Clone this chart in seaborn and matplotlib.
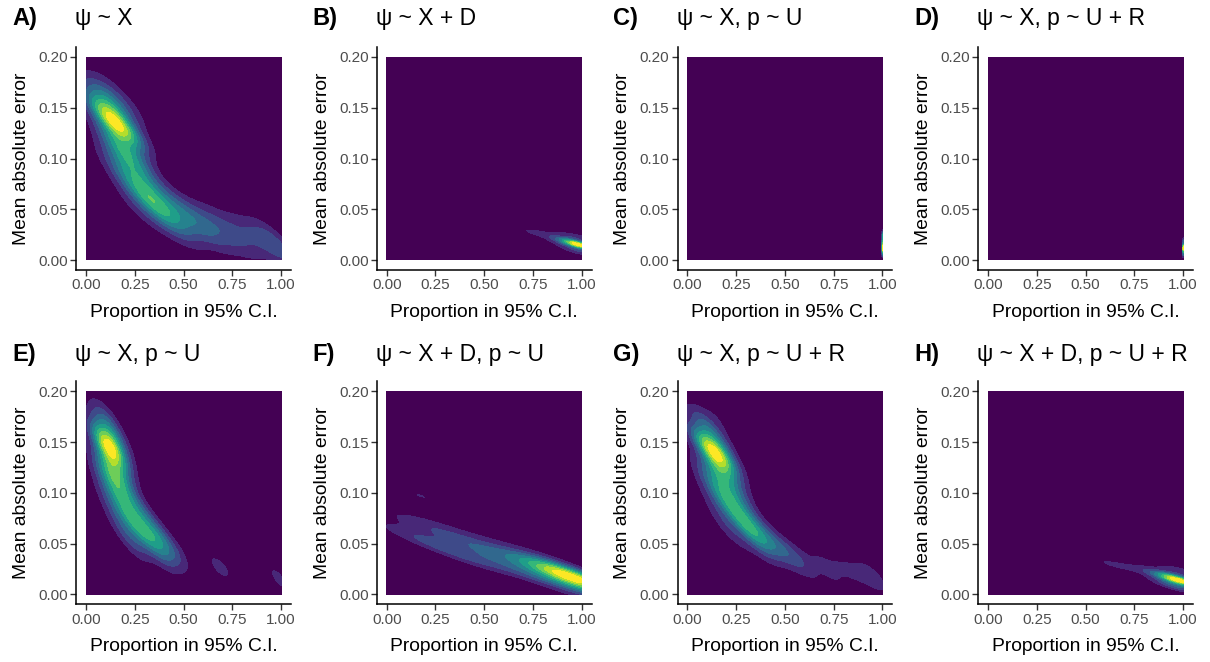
import numpy as np
import pandas as pd
import matplotlib
matplotlib.use("Agg")
import matplotlib.pyplot as plt
import seaborn as sns
from seaborn._statistics import KDE

sns.set_style("ticks")
plt.rcParams['font.family'] = ['Liberation Sans', 'DejaVu Sans']

# ---------------- data (representative weighted observations per panel) ----------------
tags = ["A)", "B)", "C)", "D)", "E)", "F)", "G)", "H)"]
titles = ["ψ ~ X", "ψ ~ X + D", "ψ ~ X, p ~ U", "ψ ~ X, p ~ U + R",
          "ψ ~ X, p ~ U", "ψ ~ X + D, p ~ U", "ψ ~ X, p ~ U + R", "ψ ~ X + D, p ~ U + R"]

a_x = [0.15, 0.11, 0.20, 0.13, 0.17, 0.09, 0.13, 0.08, 0.22,
       0.20, 0.15, 0.26, 0.25, 0.20, 0.31, 0.30, 0.27, 0.36, 0.36, 0.42, 0.40, 0.45,
       0.50, 0.50, 0.52, 0.58, 0.65, 0.65, 0.66, 0.72, 0.80, 0.80, 0.80, 0.88, 0.95, 0.99, 0.95]
a_y = [0.135, 0.140, 0.130, 0.155, 0.115, 0.160, 0.170, 0.150, 0.150,
       0.100, 0.095, 0.100, 0.080, 0.075, 0.080, 0.062, 0.050, 0.065, 0.052, 0.045, 0.035, 0.056,
       0.040, 0.028, 0.050, 0.036, 0.032, 0.022, 0.042, 0.028, 0.024, 0.014, 0.033, 0.020, 0.015, 0.014, 0.026]
a_w = [6.0, 2.5, 2.5, 3.0, 4.0, 1.5, 1.0, 0.8, 0.8,
       3.0, 1.2, 1.2, 2.6, 1.0, 1.0, 2.4, 1.2, 1.2, 2.2, 2.0, 1.0, 1.0,
       2.0, 0.8, 0.8, 1.6, 1.4, 0.6, 0.6, 1.2, 1.1, 0.5, 0.5, 1.0, 1.4, 1.5, 0.5]

b_x = [0.66, 0.70, 0.75, 0.76, 0.80, 0.84, 0.88, 0.91, 0.94, 0.97, 0.99, 1.00,
       1.00, 1.00, 0.95, 0.95, 0.90, 0.90, 0.85, 0.85, 0.78, 0.72]
b_y = [0.030, 0.028, 0.022, 0.027, 0.025, 0.023, 0.021, 0.019, 0.017, 0.016, 0.015, 0.014,
       0.008, 0.022, 0.010, 0.022, 0.015, 0.026, 0.018, 0.027, 0.028, 0.030]
b_w = [0.4, 0.6, 0.4, 0.5, 0.6, 0.7, 1.0, 1.5, 2.5, 4.0, 6.0, 6.0,
       2.0, 2.0, 1.5, 1.5, 1.0, 0.8, 0.6, 0.5, 0.5, 0.5]

c_x = [1.000, 1.000, 1.000, 0.998, 0.999, 1.000]
c_y = [0.008, 0.012, 0.016, 0.014, 0.020, 0.024]
c_w = [1.0, 1.0, 1.0, 1.0, 1.0, 1.0]

d_x = [1.000, 1.000, 1.000, 0.998, 0.999, 1.000]
d_y = [0.006, 0.010, 0.013, 0.012, 0.016, 0.019]
d_w = [1.0, 1.5, 2.0, 1.0, 1.0, 0.8]

e_x = [0.12, 0.09, 0.15, 0.11, 0.10, 0.13, 0.09, 0.18, 0.16, 0.11, 0.22, 0.20, 0.15, 0.27,
       0.25, 0.20, 0.32, 0.30, 0.26, 0.37, 0.36, 0.42, 0.47, 0.40, 0.66, 0.72, 0.99]
e_y = [0.145, 0.150, 0.150, 0.165, 0.178, 0.125, 0.120, 0.125, 0.105, 0.100, 0.100, 0.085,
       0.080, 0.085, 0.070, 0.060, 0.070, 0.058, 0.048, 0.060, 0.050, 0.045, 0.040, 0.036,
       0.028, 0.025, 0.015]
e_w = [6.0, 2.0, 2.0, 2.5, 1.0, 4.5, 1.5, 1.5, 3.0, 1.2, 1.2, 2.5, 1.2, 1.2,
       2.4, 1.2, 1.2, 2.2, 1.2, 1.2, 1.8, 1.4, 0.8, 0.8, 0.8, 0.7, 1.2]

f_x = [0.05, 0.12, 0.20, 0.12, 0.20, 0.22, 0.30, 0.32, 0.40, 0.42, 0.50, 0.52, 0.60,
       0.62, 0.70, 0.72, 0.80, 0.80, 0.88, 0.88, 0.93, 0.96, 0.97, 1.00, 1.00,
       0.15, 0.08, 0.30, 0.50, 0.70, 0.85, 0.90]
f_y = [0.075, 0.090, 0.095, 0.060, 0.070, 0.050, 0.060, 0.045, 0.048, 0.035, 0.045, 0.032,
       0.040, 0.028, 0.035, 0.024, 0.028, 0.018, 0.022, 0.012, 0.018, 0.012, 0.020, 0.015, 0.008,
       0.100, 0.060, 0.075, 0.055, 0.045, 0.035, 0.005]
f_w = [0.5, 0.6, 0.7, 0.7, 0.9, 0.9, 1.0, 1.2, 1.3, 1.0, 1.2, 1.0, 1.0,
       0.9, 0.9, 0.9, 1.1, 1.0, 1.5, 1.2, 2.5, 3.0, 3.0, 4.0, 2.0,
       0.7, 0.4, 0.5, 0.5, 0.4, 0.4, 0.8]

g_x = [0.14, 0.10, 0.18, 0.12, 0.09, 0.15, 0.16, 0.11, 0.21, 0.19, 0.14, 0.25, 0.23, 0.18,
       0.29, 0.28, 0.24, 0.34, 0.34, 0.40, 0.37, 0.45, 0.50, 0.55, 0.60, 0.70, 0.78, 0.85,
       0.92, 0.97, 0.97, 0.75]
g_y = [0.140, 0.145, 0.140, 0.160, 0.170, 0.175, 0.120, 0.115, 0.120, 0.100, 0.095, 0.100,
       0.085, 0.075, 0.085, 0.070, 0.058, 0.072, 0.060, 0.052, 0.045, 0.050, 0.042, 0.036,
       0.032, 0.028, 0.026, 0.022, 0.018, 0.015, 0.026, 0.016]
g_w = [6.0, 2.5, 2.0, 2.5, 1.0, 0.8, 4.0, 1.5, 1.5, 2.8, 1.2, 1.2, 2.3, 1.0,
       1.0, 2.2, 1.0, 1.0, 2.0, 1.8, 0.9, 1.1, 1.0, 0.9, 0.9, 0.9, 0.7, 0.7,
       0.7, 0.8, 0.3, 0.3]

h_x = [0.56, 0.60, 0.64, 0.68, 0.72, 0.78, 0.84, 0.89, 0.93, 0.96, 0.98, 1.00,
       1.00, 1.00, 0.95, 0.95, 0.90, 0.85, 0.80, 0.70]
h_y = [0.033, 0.031, 0.030, 0.028, 0.027, 0.025, 0.022, 0.020, 0.017, 0.015, 0.013, 0.013,
       0.006, 0.022, 0.008, 0.024, 0.012, 0.015, 0.030, 0.022]
h_w = [0.4, 0.45, 0.45, 0.45, 0.5, 0.6, 0.9, 1.3, 2.0, 3.0, 5.0, 5.0,
       2.0, 1.5, 1.5, 1.2, 0.8, 0.5, 0.5, 0.4]

panels = [(a_x, a_y, a_w), (b_x, b_y, b_w), (c_x, c_y, c_w), (d_x, d_y, d_w),
          (e_x, e_y, e_w), (f_x, f_y, f_w), (g_x, g_y, g_w), (h_x, h_y, h_w)]
bw_adjusts = [0.6, 0.95, 0.8, 0.8, 0.55, 0.85, 0.55, 0.95]

x_ticks = [0.0, 0.25, 0.5, 0.75, 1.0]
y_ticks = [0.0, 0.05, 0.10, 0.15, 0.20]
viridis10 = ['#440154', '#482878', '#3E4A89', '#31688E', '#26828E',
             '#1F9E89', '#35B779', '#6DCD59', '#B4DE2C', '#FDE725']

CLIP = ((0.0, 1.0), (0.0, 0.2))
CUT = 1e4
GRID = 200
NB = 10


def equal_density_props(vals, nb):
    """Iso-proportions (seaborn's level convention) that reproduce equally spaced density bands."""
    s = np.sort(np.ravel(vals))[::-1]
    norm = np.cumsum(s) / np.ravel(vals).sum()
    mx = s[0]
    idx = [int((s >= mx * j / nb).sum()) - 1 for j in range(1, nb)]
    idx[-1] = max(idx[-1], 1)
    for j in range(len(idx) - 2, -1, -1):
        idx[j] = max(idx[j], idx[j + 1] + 1)
    qs = [1 - (norm[i - 1] + norm[i]) / 2 for i in idx]
    i0 = min(idx[0] + 1, len(s) - 1)
    q0 = 1 - (norm[i0 - 1] + norm[i0]) / 2
    q0 = max(0.0, min(q0, qs[0] - 1e-12))
    out = [q0] + qs + [1.0]
    return [float(min(max(v, 0.0), 1.0)) for v in out]


W, H = 1210, 662
fig = plt.figure(figsize=(W / 100, H / 100), dpi=100)

ax_w, ax_h = 214.5, 223.3
lefts = [76.3 + 300.7 * i for i in range(4)]
bottoms_px = [270.15, 604.4]

for k, (px, py, pw) in enumerate(panels):
    r, c = divmod(k, 4)
    ax = fig.add_axes([lefts[c] / W, 1 - bottoms_px[r] / H, ax_w / W, ax_h / H])
    df = pd.DataFrame({"x": px, "y": py, "w": pw})

    est = KDE(bw_adjust=bw_adjusts[k], gridsize=GRID, cut=CUT, clip=CLIP)
    dens, _ = est(df["x"].to_numpy(float), df["y"].to_numpy(float),
                  weights=df["w"].to_numpy(float))
    props = equal_density_props(dens, NB)

    sns.kdeplot(data=df, x="x", y="y", weights="w", fill=True, levels=props,
                color=viridis10[0], colors=[viridis10[0]] + viridis10, extend="min",
                bw_adjust=bw_adjusts[k], gridsize=GRID, cut=CUT, clip=CLIP,
                antialiased=False, ax=ax)

    ax.set_xlim(-0.05, 1.05)
    ax.set_ylim(-0.01, 0.21)
    ax.set_xticks(x_ticks)
    ax.set_xticklabels([f"{v:.2f}" for v in x_ticks])
    ax.set_yticks(y_ticks)
    ax.set_yticklabels([f"{v:.2f}" for v in y_ticks])
    ax.tick_params(labelsize=11, labelcolor="#4D4D4D", color="#333333", length=4, width=1.0, pad=2)
    for s in ["left", "bottom"]:
        ax.spines[s].set_linewidth(1.1)
        ax.spines[s].set_color("black")
    sns.despine(ax=ax)
    ax.set_xlabel("Proportion in 95% C.I.", fontsize=13.9, color="black", labelpad=8)
    ax.set_ylabel("Mean absolute error", fontsize=13.9, color="black", labelpad=6)

    ty = [18, 355][r]
    fig.text((lefts[c] - 1) / W, 1 - ty / H, titles[k], fontsize=16.5, color="black",
             ha="left", va="center")
    fig.text((12 + 300.7 * c) / W, 1 - ty / H, tags[k], fontsize=17, fontweight="bold",
             color="black", ha="left", va="center")

fig.savefig("out.png", dpi=100)
